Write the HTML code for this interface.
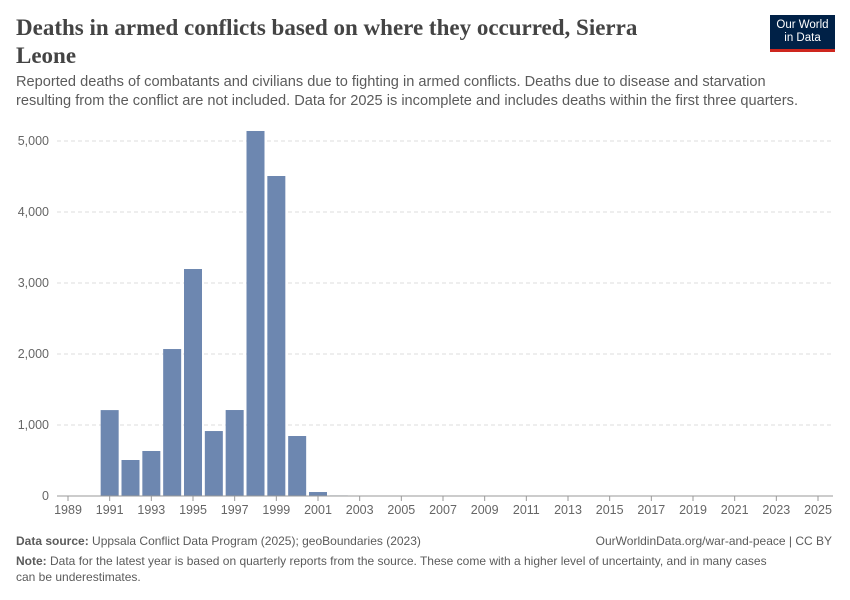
<!DOCTYPE html>
<html><head><meta charset="utf-8"><style>
body{margin:0;background:#fff;font-family:"Liberation Sans",sans-serif;}
#wrap{position:relative;width:850px;height:600px;overflow:hidden;}
.title{position:absolute;left:16px;top:14px;width:660px;font-family:"Liberation Serif",serif;font-size:23px;line-height:28px;color:#444;font-weight:bold;}
.sub{position:absolute;left:16px;top:73px;width:795px;font-size:14.6px;line-height:19px;color:#5b5b5b;}
.logo{position:absolute;left:770px;top:15px;width:65px;height:37px;background:#002147;color:#fff;font-size:11.5px;line-height:13px;text-align:center;padding-top:4px;box-sizing:border-box;border-bottom:3px solid #ce261e;}
.foot{position:absolute;font-size:12px;color:#5b5b5b;line-height:16px;}
</style></head><body><div id="wrap">
<div class="title">Deaths in armed conflicts based on where they occurred, Sierra Leone</div>
<div class="logo">Our World<br>in Data</div>
<div class="sub">Reported deaths of combatants and civilians due to fighting in armed conflicts. Deaths due to disease and starvation resulting from the conflict are not included. Data for 2025 is incomplete and includes deaths within the first three quarters.</div>
<svg id="chart" width="850" height="600" style="position:absolute;left:0;top:0"></svg>
<div class="foot" style="left:16px;top:533px"><b>Data source:</b> Uppsala Conflict Data Program (2025); geoBoundaries (2023)</div>
<div class="foot" style="right:18px;top:533px">OurWorldinData.org/war-and-peace | CC BY</div>
<div class="foot" style="left:16px;top:553px;width:800px"><b>Note:</b> Data for the latest year is based on quarterly reports from the source. These come with a higher level of uncertainty, and in many cases<br>can be underestimates.</div>
</div>
<script>
const years=[];for(let y=1989;y<=2025;y++)years.push(y);
const deathYears=[1991,1992,1993,1994,1995,1996,1997,1998,1999,2000,2001,2002];
const deaths=[1210,507,634,2070,3197,915,1211,5141,4507,845,56,8];
const yTicks=[0,1000,2000,3000,4000,5000];
const yTickLabels=["0","1,000","2,000","3,000","4,000","5,000"];
const svg=document.getElementById('chart');const NS="http://www.w3.org/2000/svg";
const x=y=>68+(y-1989)*(750/36);
const yS=v=>496-v*0.071;
function el(t,a){const e=document.createElementNS(NS,t);for(const k in a)e.setAttribute(k,a[k]);svg.appendChild(e);return e;}
yTicks.forEach((t,i)=>{
 if(t>0){const g=el('line',{x1:57,x2:833,y1:yS(t),y2:yS(t),stroke:'#ddd','stroke-dasharray':'4,3'});
 
 }
 const l=el('text',{x:49,y:yS(t)+4,'text-anchor':'end','font-size':'12.5','fill':'#666','font-family':'Liberation Sans'});l.textContent=yTickLabels[i];
 
 
});
deathYears.forEach((yr,i)=>{
 const h=496-yS(deaths[i]);
 const r=el('rect',{x:x(yr)-9,y:yS(deaths[i]),width:18,height:h,fill:'#6d87b0'});
 
 
});
const ax=el('line',{x1:57,x2:833,y1:496,y2:496,stroke:'#999'});


years.filter(y=>(y-1989)%2===0).forEach(yr=>{
 el('line',{x1:x(yr),x2:x(yr),y1:496,y2:501,stroke:'#999'});
 const t=el('text',{x:x(yr),y:514,'text-anchor':'middle','font-size':'12.5','fill':'#666','font-family':'Liberation Sans'});t.textContent=yr;
 
 
});
</script></body></html>
